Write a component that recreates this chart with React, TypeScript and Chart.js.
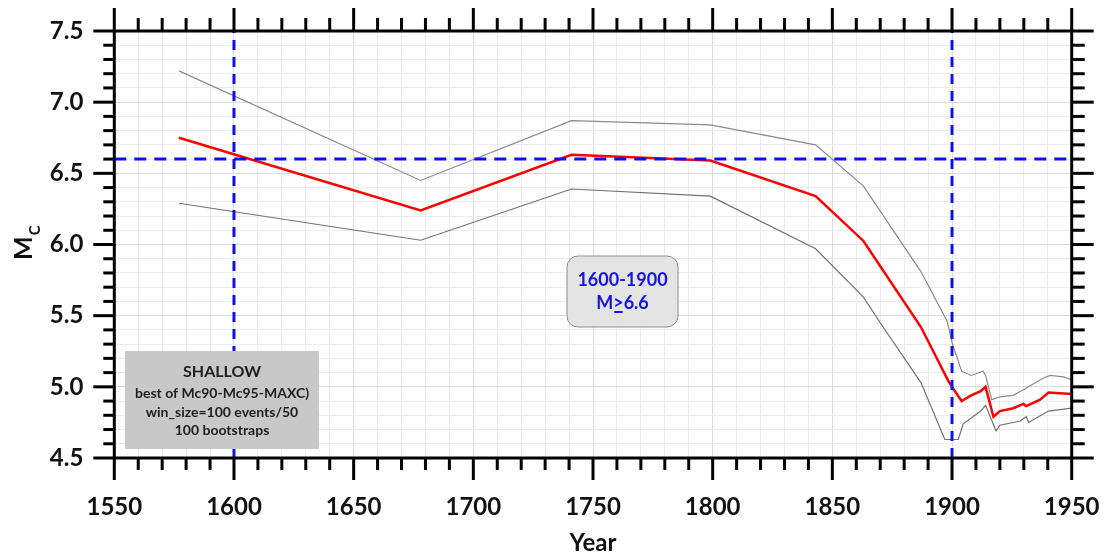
import React, { useEffect, useRef } from "react";
import { Chart, registerables } from "chart.js";

Chart.register(...registerables);

// ---- data ----
const redYears = [1577, 1678, 1741, 1799, 1843, 1863, 1887, 1898.5, 1900, 1904, 1908, 1912, 1914, 1917.3, 1920, 1925.6, 1929.8, 1931, 1936.8, 1940.3, 1950];
const redMc = [6.75, 6.24, 6.63, 6.59, 6.34, 6.025, 5.42, 5.04, 5.0, 4.9, 4.94, 4.97, 5.0, 4.79, 4.83, 4.85, 4.88, 4.865, 4.91, 4.96, 4.95];

const upperYears = [1577, 1678, 1741, 1799, 1843, 1863, 1887, 1898, 1900, 1904, 1908, 1913, 1914, 1916.6, 1920, 1925.6, 1929.8, 1938, 1941, 1946.6, 1950];
const upperMc = [7.22, 6.45, 6.87, 6.84, 6.7, 6.41, 5.81, 5.46, 5.31, 5.11, 5.08, 5.11, 5.08, 4.91, 4.93, 4.94, 4.98, 5.06, 5.08, 5.07, 5.05];

const lowerYears = [1577, 1678, 1741, 1799, 1843, 1863, 1870, 1887, 1897, 1902.6, 1904.7, 1912, 1914, 1918.4, 1920, 1928.5, 1931, 1932, 1940.3, 1950];
const lowerMc = [6.29, 6.03, 6.39, 6.34, 5.97, 5.63, 5.45, 5.03, 4.63, 4.63, 4.74, 4.83, 4.87, 4.69, 4.73, 4.76, 4.79, 4.75, 4.83, 4.85];

const refYears = [1600, 1900];
const refMc = 6.6;

const xMin = 1550, xMax = 1950, xStep = 10, xMajor = 50;
const yMin = 4.5, yMax = 7.5, yStep = 0.1, yMajor = 0.5;

const shallowLines = ["SHALLOW", "best of Mc90-Mc95-MAXC)", "win_size=100 events/50", "100 bootstraps"];
const periodLabel = "1600-1900";
const magLabel = ["M", ">", "6.6"];

const FONT = "Lato, 'Open Sans', sans-serif";

const isMajor = (v: number, m: number) => Math.abs(v / m - Math.round(v / m)) < 1e-6;
const toPts = (xs: number[], ys: number[]) => xs.map((x, i) => ({ x, y: ys[i] }));

const zeroPad = (s: any) => {
  s.paddingTop = 0;
  s.paddingBottom = 0;
  s.paddingLeft = 0;
  s.paddingRight = 0;
};

const decor = {
  id: "decor",
  afterDraw(chart: any) {
    const { ctx, chartArea } = chart;
    const { left, right, top, bottom } = chartArea;
    const x = chart.scales.x;
    const y = chart.scales.y;
    ctx.save();

    // text box SHALLOW
    ctx.fillStyle = "#c8c8c8";
    ctx.fillRect(117, 343, 194, 98);
    ctx.fillStyle = "#1e1e1e";
    ctx.textAlign = "center";
    ctx.textBaseline = "middle";
    const bx = 214;
    ctx.font = `bold 16px ${FONT}`;
    ctx.fillText(shallowLines[0], bx, 364);
    ctx.font = `bold 14px ${FONT}`;
    ctx.fillText(shallowLines[1], bx, 385);
    ctx.fillText(shallowLines[2], bx, 404);
    ctx.fillText(shallowLines[3], bx, 422);

    // rounded box
    const rx = 559, ry = 248, rw = 111, rh = 71, rr = 11;
    ctx.beginPath();
    ctx.roundRect(rx, ry, rw, rh, rr);
    ctx.fillStyle = "#e4e4e4";
    ctx.fill();
    ctx.lineWidth = 1;
    ctx.strokeStyle = "#8c8c8c";
    ctx.stroke();
    ctx.fillStyle = "#1414e6";
    ctx.font = `bold 18px ${FONT}`;
    ctx.fillText(periodLabel, rx + rw / 2, 272);
    const w0 = ctx.measureText(magLabel[0]).width;
    const w1 = ctx.measureText(magLabel[1]).width;
    const w2 = ctx.measureText(magLabel[2]).width;
    let sx = rx + rw / 2 - (w0 + w1 + w2) / 2;
    ctx.textAlign = "left";
    ctx.fillText(magLabel[0], sx, 295);
    ctx.fillText(magLabel[1], sx + w0, 295);
    ctx.fillText(magLabel[2], sx + w0 + w1, 295);
    ctx.fillRect(sx + w0 + 1, 303, w1 - 2, 2);

    // tick marks
    ctx.strokeStyle = "#000";
    ctx.lineWidth = 3;
    ctx.lineCap = "butt";
    const seg = (x1: number, y1: number, x2: number, y2: number) => {
      ctx.beginPath();
      ctx.moveTo(x1, y1);
      ctx.lineTo(x2, y2);
      ctx.stroke();
    };
    x.ticks.forEach((t: any) => {
      const px = x.getPixelForValue(t.value);
      const m = isMajor(t.value, xMajor);
      seg(px, bottom, px, bottom + (m ? 22 : 12));
      seg(px, top, px, top - (m ? 23 : 13));
    });
    y.ticks.forEach((t: any) => {
      const py = y.getPixelForValue(t.value);
      const m = isMajor(t.value, yMajor);
      seg(left, py, left - (m ? 21 : 11), py);
      seg(right, py, right + (m ? 22 : 13), py);
    });
    ctx.strokeRect(left, top, right - left, bottom - top);

    // axis titles
    ctx.fillStyle = "#111";
    ctx.textAlign = "center";
    ctx.textBaseline = "middle";
    ctx.font = `bold 24px ${FONT}`;
    ctx.fillText("Year", (left + right) / 2, 535);

    ctx.save();
    ctx.translate(24, 252);
    ctx.rotate(-Math.PI / 2);
    ctx.textAlign = "left";
    ctx.textBaseline = "alphabetic";
    ctx.font = `bold 25px ${FONT}`;
    ctx.fillText("M", 0, 0);
    const mw = ctx.measureText("M").width;
    ctx.font = `bold 15px ${FONT}`;
    ctx.fillText("C", mw + 1, 8);
    ctx.restore();

    ctx.restore();
  },
};

export default function App() {
  const ref = useRef<HTMLCanvasElement | null>(null);
  useEffect(() => {
    if (!ref.current) return;
    const blue = "#1010e8";
    const refSets = [
      ...refYears.map((yr) => ({
        data: [{ x: yr, y: yMin }, { x: yr, y: yMax }],
        borderColor: blue,
        borderWidth: 3,
        borderDash: [10, 7],
        pointRadius: 0,
        fill: false,
      })),
      {
        data: [{ x: xMin, y: refMc }, { x: xMax, y: refMc }],
        borderColor: blue,
        borderWidth: 3,
        borderDash: [12, 8],
        pointRadius: 0,
        fill: false,
      },
    ];
    const chart = new Chart(ref.current, {
      type: "line",
      data: {
        datasets: [
          ...refSets,
          { data: toPts(redYears, redMc), borderColor: "#ff0000", borderWidth: 2.5, pointRadius: 0, fill: false },
          { data: toPts(upperYears, upperMc), borderColor: "#8a8a8a", borderWidth: 1.2, pointRadius: 0, fill: false },
          { data: toPts(lowerYears, lowerMc), borderColor: "#707070", borderWidth: 1.2, pointRadius: 0, fill: false },
        ] as any,
      },
      options: {
        animation: false,
        responsive: false,
        devicePixelRatio: 1,
        layout: { padding: { top: 23, right: 34.3, left: 0, bottom: 0 } },
        plugins: { legend: { display: false }, tooltip: { enabled: false } },
        elements: { line: { tension: 0 } },
        scales: {
          x: {
            type: "linear",
            min: xMin,
            max: xMax,
            afterFit: (s: any) => { s.height = 98; zeroPad(s); },
            grid: {
              drawTicks: false,
              color: (c: any) => (isMajor(c.tick.value, xMajor) ? "#dcdcdc" : "#ececec"),
              lineWidth: 1,
            },
            border: { display: false },
            ticks: {
              stepSize: xStep,
              autoSkip: false,
              maxRotation: 0,
              padding: 35,
              color: "#111",
              font: { family: FONT, size: 24, weight: "bold" },
              callback: (v: any) => (isMajor(Number(v), xMajor) ? String(Math.round(Number(v))) : ""),
            },
          },
          y: {
            type: "linear",
            min: yMin,
            max: yMax,
            afterFit: (s: any) => { s.width = 106.3; zeroPad(s); },
            grid: {
              drawTicks: false,
              color: (c: any) => (isMajor(c.tick.value, yMajor) ? "#dcdcdc" : "#ececec"),
              lineWidth: 1,
            },
            border: { display: false },
            ticks: {
              stepSize: yStep,
              autoSkip: false,
              padding: 31,
              color: "#111",
              font: { family: FONT, size: 24, weight: "bold" },
              callback: (v: any) => (isMajor(Number(v), yMajor) ? Number(v).toFixed(1) : ""),
            },
          },
        },
      },
      plugins: [decor],
    });
    return () => chart.destroy();
  }, []);
  return (
    <div style={{ width: 1098, height: 548 }}>
      <canvas ref={ref} width={1098} height={548} style={{ display: "block" }} />
    </div>
  );
}
